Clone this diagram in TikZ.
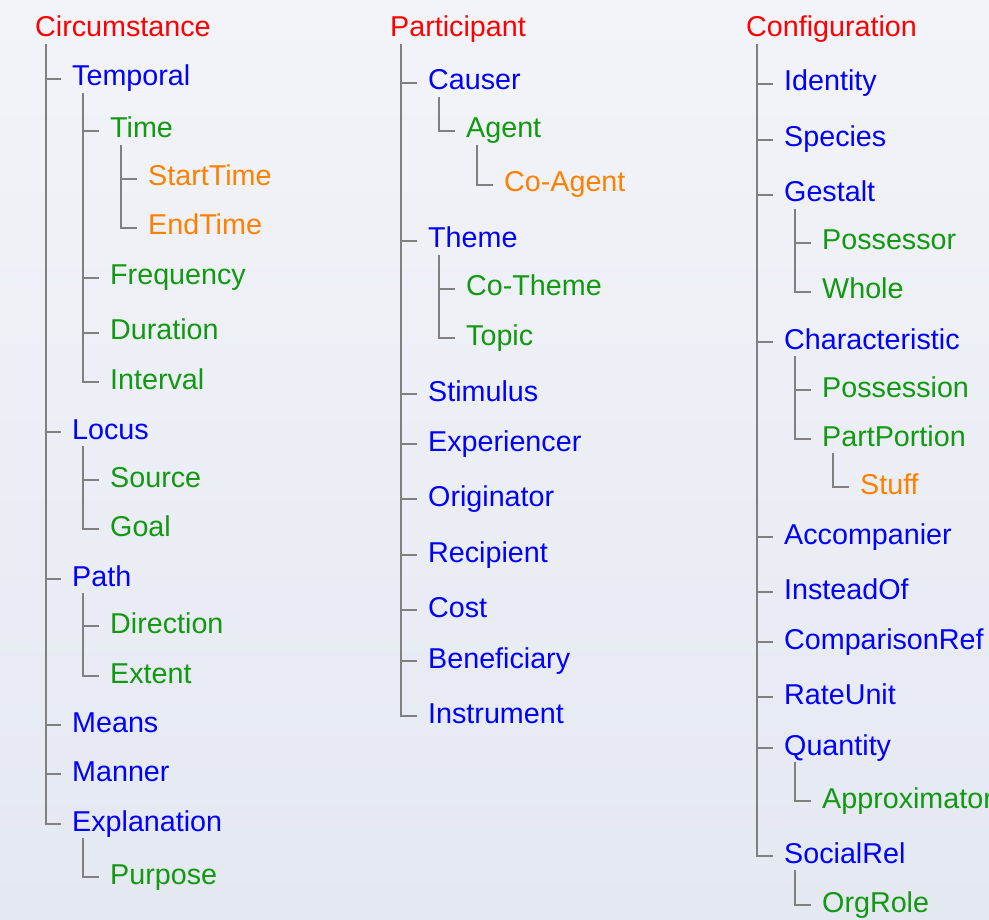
\documentclass[tikz,border=0pt]{standalone}
\usepackage{fontspec}
\setmainfont{Liberation Sans}
\usepackage{xcolor}
\usetikzlibrary{positioning}

\definecolor{rootred}{RGB}{255,0,0}
\definecolor{roleblue}{RGB}{0,0,255}
\definecolor{subgreen}{RGB}{17,153,17}
\definecolor{leaforange}{RGB}{255,128,0}
\definecolor{treegray}{RGB}{128,128,128}
\definecolor{bgtop}{RGB}{243,244,249}
\definecolor{bgbottom}{RGB}{228,232,241}

\begin{document}
\begin{tikzpicture}[
  x=1pt, y=-1pt,
  every node/.style={anchor=base west, inner sep=0pt, text height=21pt, text depth=7pt, font=\fontsize{28.7}{34}\selectfont},
  root/.style={text=rootred},
  lvlone/.style={text=roleblue},
  lvltwo/.style={text=subgreen},
  lvlthree/.style={text=leaforange},
  trunk/.style={draw=treegray, line width=2.9pt},
  branch/.style={draw=treegray, line width=2.2pt}
]
\useasboundingbox (0,0) rectangle (989,920);
\shade[top color=bgtop, bottom color=bgbottom] (0,0) rectangle (989,920);
\clip (0,0) rectangle (989,920);

% Circumstance
\node[root] (circ) at (35,37) {Circumstance};
\node[lvlone] (temporal) at (72,86) {Temporal};
\node[lvltwo] (time) at (110,138) {Time};
\node[lvlthree] (starttime) at (148,186) {StartTime};
\node[lvlthree] (endtime) at (148,235) {EndTime};
\node[lvltwo] (frequency) at (110,285) {Frequency};
\node[lvltwo] (duration) at (110,340) {Duration};
\node[lvltwo] (interval) at (110,389) {Interval};
\node[lvlone] (locus) at (72,439) {Locus};
\node[lvltwo] (source) at (110,487) {Source};
\node[lvltwo] (goal) at (110,536) {Goal};
\node[lvlone] (path) at (72,586) {Path};
\node[lvltwo] (direction) at (110,633) {Direction};
\node[lvltwo] (extent) at (110,683) {Extent};
\node[lvlone] (means) at (72,732) {Means};
\node[lvlone] (manner) at (72,781) {Manner};
\node[lvlone] (explanation) at (72,831) {Explanation};
\node[lvltwo] (purpose) at (110,884) {Purpose};

% Participant
\node[root] (part) at (390,37) {Participant};
\node[lvlone] (causer) at (428,90) {Causer};
\node[lvltwo] (agent) at (466,138) {Agent};
\node[lvlthree] (coagent) at (504,192) {Co-Agent};
\node[lvlone] (theme) at (428,248) {Theme};
\node[lvltwo] (cotheme) at (466,296) {Co-Theme};
\node[lvltwo] (topic) at (466,345) {Topic};
\node[lvlone] (stimulus) at (428,401) {Stimulus};
\node[lvlone] (experiencer) at (428,451) {Experiencer};
\node[lvlone] (originator) at (428,506) {Originator};
\node[lvlone] (recipient) at (428,562) {Recipient};
\node[lvlone] (cost) at (428,617) {Cost};
\node[lvlone] (beneficiary) at (428,668) {Beneficiary};
\node[lvlone] (instrument) at (428,723) {Instrument};

% Configuration
\node[root] (conf) at (746,37) {Configuration};
\node[lvlone] (identity) at (784,91) {Identity};
\node[lvlone] (species) at (784,147) {Species};
\node[lvlone] (gestalt) at (784,202) {Gestalt};
\node[lvltwo] (possessor) at (822,250) {Possessor};
\node[lvltwo] (whole) at (822,299) {Whole};
\node[lvlone] (characteristic) at (784,349) {Characteristic};
\node[lvltwo] (possession) at (822,397) {Possession};
\node[lvltwo] (partportion) at (822,446) {PartPortion};
\node[lvlthree] (stuff) at (860,494) {Stuff};
\node[lvlone] (accompanier) at (784,544) {Accompanier};
\node[lvlone] (insteadof) at (784,599) {InsteadOf};
\node[lvlone] (comparisonref) at (784,649) {ComparisonRef};
\node[lvlone] (rateunit) at (784,704) {RateUnit};
\node[lvlone] (quantity) at (784,755) {Quantity};
\node[lvltwo] (approximator) at (822,808) {Approximator};
\node[lvlone] (socialrel) at (784,863) {SocialRel};
\node[lvltwo] (orgrole) at (822,912) {OrgRole};

% tree lines
\foreach \p/\c in {circ/temporal, circ/locus, circ/path, circ/means, circ/manner, circ/explanation,
                   part/causer, part/theme, part/stimulus, part/experiencer, part/originator,
                   part/recipient, part/cost, part/beneficiary, part/instrument,
                   conf/identity, conf/species, conf/gestalt, conf/characteristic, conf/accompanier,
                   conf/insteadof, conf/comparisonref, conf/rateunit, conf/quantity, conf/socialrel}
  \draw[trunk] (\p.south west) ++(11,0) |- ([xshift=-11pt]\c.west);

\foreach \p/\c in {temporal/time, time/starttime, time/endtime, temporal/frequency, temporal/duration,
                   temporal/interval, locus/source, locus/goal, path/direction, path/extent,
                   explanation/purpose, causer/agent, agent/coagent, theme/cotheme, theme/topic,
                   gestalt/possessor, gestalt/whole, characteristic/possession,
                   characteristic/partportion, partportion/stuff, quantity/approximator,
                   socialrel/orgrole}
  \draw[branch] (\p.south west) ++(11,0) |- ([xshift=-11pt]\c.west);
\end{tikzpicture}
\end{document}
